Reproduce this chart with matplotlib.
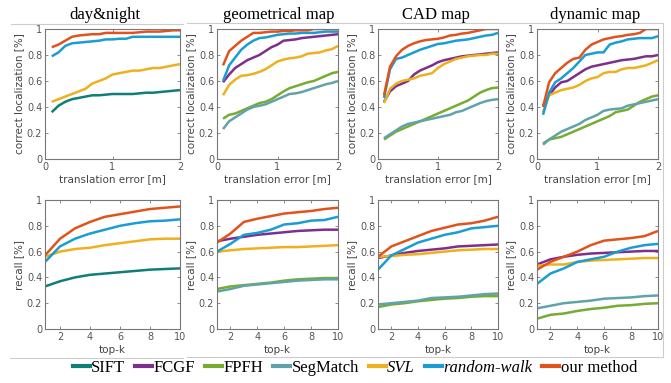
import matplotlib
matplotlib.use("Agg")
import matplotlib.pyplot as plt
from matplotlib.lines import Line2D

# x values
trans_err = [0.1, 0.2, 0.3, 0.4, 0.5, 0.6, 0.7, 0.8, 0.9, 1.0,
             1.1, 1.2, 1.3, 1.4, 1.5, 1.6, 1.7, 1.8, 1.9, 2.0]
topk = [1, 2, 3, 4, 5, 6, 7, 8, 9, 10]

methods = ['SIFT', 'FCGF', 'FPFH', 'SegMatch', 'SVL', 'random-walk', 'our method']
colors = ['#0f7d78', '#7e2f8e', '#77ac30', '#62a3aa', '#edb120', '#1a9dd4', '#e2531b']

titles = ['day&night', 'geometrical map', 'CAD map', 'dynamic map']

# correct localization vs translation error (top row)
loc_daynight = {
    'SIFT': [0.36, 0.41, 0.44, 0.46, 0.47, 0.48, 0.49, 0.49, 0.495, 0.50,
             0.50, 0.50, 0.50, 0.505, 0.51, 0.51, 0.515, 0.52, 0.525, 0.53],
    'SVL': [0.44, 0.46, 0.48, 0.50, 0.52, 0.54, 0.58, 0.60, 0.62, 0.65,
            0.66, 0.67, 0.68, 0.68, 0.69, 0.70, 0.70, 0.71, 0.72, 0.73],
    'random-walk': [0.79, 0.82, 0.87, 0.89, 0.895, 0.90, 0.905, 0.91, 0.92, 0.92,
                    0.925, 0.925, 0.94, 0.94, 0.94, 0.94, 0.94, 0.94, 0.94, 0.94],
    'our method': [0.86, 0.88, 0.91, 0.94, 0.95, 0.955, 0.96, 0.96, 0.97, 0.97,
                   0.97, 0.97, 0.97, 0.975, 0.98, 0.98, 0.98, 0.985, 0.99, 0.99],
}
loc_geom = {
    'FCGF': [0.59, 0.65, 0.70, 0.73, 0.76, 0.78, 0.80, 0.83, 0.86, 0.88,
             0.91, 0.915, 0.92, 0.93, 0.935, 0.94, 0.945, 0.95, 0.955, 0.96],
    'FPFH': [0.31, 0.34, 0.35, 0.37, 0.39, 0.41, 0.43, 0.44, 0.46, 0.49,
             0.52, 0.545, 0.56, 0.575, 0.59, 0.60, 0.62, 0.64, 0.66, 0.67],
    'SegMatch': [0.23, 0.29, 0.32, 0.35, 0.38, 0.40, 0.41, 0.42, 0.44, 0.46,
                 0.48, 0.50, 0.505, 0.515, 0.53, 0.545, 0.56, 0.575, 0.585, 0.60],
    'SVL': [0.49, 0.57, 0.61, 0.64, 0.645, 0.655, 0.67, 0.69, 0.72, 0.75,
            0.765, 0.775, 0.78, 0.79, 0.81, 0.815, 0.82, 0.835, 0.845, 0.87],
    'random-walk': [0.60, 0.72, 0.78, 0.84, 0.88, 0.91, 0.93, 0.935, 0.945, 0.955,
                    0.96, 0.965, 0.965, 0.97, 0.97, 0.97, 0.975, 0.98, 0.98, 0.98],
    'our method': [0.72, 0.83, 0.87, 0.91, 0.94, 0.97, 0.97, 0.975, 0.98, 0.98,
                   0.985, 0.985, 0.99, 0.99, 0.99, 1.0, 1.0, 1.0, 1.0, 1.0],
}
loc_cad = {
    'FCGF': [0.44, 0.52, 0.56, 0.58, 0.60, 0.65, 0.68, 0.70, 0.72, 0.745,
             0.76, 0.77, 0.78, 0.79, 0.795, 0.80, 0.805, 0.81, 0.815, 0.82],
    'FPFH': [0.15, 0.18, 0.21, 0.23, 0.25, 0.27, 0.29, 0.31, 0.33, 0.35,
             0.37, 0.39, 0.41, 0.43, 0.45, 0.48, 0.51, 0.53, 0.545, 0.55],
    'SegMatch': [0.16, 0.19, 0.22, 0.25, 0.27, 0.28, 0.29, 0.30, 0.31, 0.32,
                 0.33, 0.34, 0.36, 0.37, 0.39, 0.41, 0.43, 0.445, 0.455, 0.46],
    'SVL': [0.43, 0.54, 0.58, 0.60, 0.61, 0.62, 0.64, 0.65, 0.66, 0.70,
            0.73, 0.75, 0.77, 0.78, 0.79, 0.795, 0.80, 0.80, 0.81, 0.81],
    'random-walk': [0.47, 0.69, 0.77, 0.78, 0.80, 0.82, 0.84, 0.855, 0.87, 0.885,
                    0.89, 0.90, 0.91, 0.915, 0.92, 0.93, 0.94, 0.95, 0.955, 0.97],
    'our method': [0.49, 0.71, 0.79, 0.84, 0.87, 0.89, 0.905, 0.915, 0.92, 0.925,
                   0.935, 0.95, 0.955, 0.965, 0.97, 0.98, 0.99, 1.0, 1.0, 1.0],
}
loc_dynamic = {
    'FCGF': [0.41, 0.49, 0.55, 0.59, 0.60, 0.63, 0.66, 0.69, 0.71, 0.72,
             0.73, 0.74, 0.75, 0.76, 0.765, 0.77, 0.78, 0.79, 0.79, 0.80],
    'FPFH': [0.11, 0.15, 0.16, 0.17, 0.19, 0.21, 0.23, 0.25, 0.27, 0.29,
             0.31, 0.33, 0.36, 0.37, 0.38, 0.41, 0.44, 0.46, 0.48, 0.49],
    'SegMatch': [0.12, 0.15, 0.18, 0.21, 0.23, 0.25, 0.27, 0.30, 0.32, 0.34,
                 0.37, 0.38, 0.385, 0.39, 0.41, 0.42, 0.43, 0.44, 0.45, 0.46],
    'SVL': [0.36, 0.49, 0.51, 0.53, 0.54, 0.55, 0.57, 0.60, 0.62, 0.63,
            0.66, 0.67, 0.67, 0.69, 0.70, 0.70, 0.71, 0.72, 0.74, 0.76],
    'random-walk': [0.34, 0.51, 0.59, 0.62, 0.66, 0.70, 0.75, 0.80, 0.81, 0.82,
                    0.82, 0.88, 0.895, 0.905, 0.92, 0.925, 0.93, 0.93, 0.93, 0.945],
    'our method': [0.40, 0.59, 0.66, 0.70, 0.74, 0.77, 0.78, 0.84, 0.88, 0.90,
                   0.92, 0.93, 0.94, 0.945, 0.955, 0.96, 0.97, 1.0, 1.0, 1.0],
}

# recall vs top-k (bottom row)
rec_daynight = {
    'SIFT': [0.33, 0.37, 0.40, 0.42, 0.43, 0.44, 0.45, 0.46, 0.465, 0.47],
    'SVL': [0.56, 0.60, 0.62, 0.63, 0.65, 0.665, 0.68, 0.695, 0.70, 0.70],
    'random-walk': [0.52, 0.64, 0.70, 0.74, 0.77, 0.80, 0.82, 0.835, 0.84, 0.85],
    'our method': [0.57, 0.70, 0.78, 0.83, 0.87, 0.89, 0.91, 0.93, 0.94, 0.95],
}
rec_geom = {
    'FCGF': [0.68, 0.70, 0.715, 0.73, 0.74, 0.75, 0.76, 0.765, 0.77, 0.77],
    'FPFH': [0.31, 0.33, 0.34, 0.35, 0.36, 0.375, 0.385, 0.39, 0.395, 0.395],
    'SegMatch': [0.29, 0.31, 0.335, 0.345, 0.355, 0.365, 0.375, 0.38, 0.385, 0.385],
    'SVL': [0.60, 0.61, 0.62, 0.625, 0.63, 0.635, 0.635, 0.64, 0.645, 0.65],
    'random-walk': [0.60, 0.66, 0.73, 0.745, 0.77, 0.81, 0.82, 0.84, 0.845, 0.87],
    'our method': [0.67, 0.74, 0.83, 0.855, 0.875, 0.895, 0.905, 0.915, 0.93, 0.94],
}
rec_cad = {
    'FCGF': [0.55, 0.57, 0.59, 0.605, 0.615, 0.625, 0.64, 0.645, 0.65, 0.655],
    'FPFH': [0.17, 0.19, 0.20, 0.215, 0.225, 0.235, 0.24, 0.25, 0.255, 0.255],
    'SegMatch': [0.19, 0.20, 0.21, 0.22, 0.24, 0.245, 0.25, 0.26, 0.27, 0.275],
    'SVL': [0.56, 0.565, 0.575, 0.58, 0.59, 0.60, 0.61, 0.615, 0.62, 0.62],
    'random-walk': [0.46, 0.57, 0.62, 0.67, 0.70, 0.73, 0.75, 0.78, 0.79, 0.80],
    'our method': [0.56, 0.64, 0.68, 0.72, 0.76, 0.785, 0.81, 0.82, 0.84, 0.87],
}
rec_dynamic = {
    'FCGF': [0.50, 0.54, 0.56, 0.575, 0.585, 0.59, 0.595, 0.60, 0.605, 0.605],
    'FPFH': [0.08, 0.11, 0.12, 0.14, 0.155, 0.165, 0.18, 0.185, 0.195, 0.20],
    'SegMatch': [0.16, 0.18, 0.20, 0.21, 0.22, 0.235, 0.24, 0.245, 0.255, 0.26],
    'SVL': [0.49, 0.50, 0.50, 0.52, 0.53, 0.535, 0.54, 0.545, 0.55, 0.55],
    'random-walk': [0.35, 0.43, 0.47, 0.52, 0.54, 0.56, 0.60, 0.63, 0.65, 0.66],
    'our method': [0.46, 0.52, 0.56, 0.60, 0.65, 0.685, 0.695, 0.705, 0.72, 0.76],
}

top_data = [loc_daynight, loc_geom, loc_cad, loc_dynamic]
bottom_data = [rec_daynight, rec_geom, rec_cad, rec_dynamic]

W, H = 671, 383
fig = plt.figure(figsize=(W / 100, H / 100), dpi=100)

# axes boxes in pixels: (left, right)
cols = [(45, 180), (217, 338), (378, 498), (537, 658)]
rows = [(29, 159), (200, 329)]

tick_col = '#555555'
spine_col = '#777777'
lw = 1.8


def px_axes(x0, x1, y0, y1):
    return fig.add_axes([x0 / W, 1 - y1 / H, (x1 - x0) / W, (y1 - y0) / H])


def style(ax):
    for s in ax.spines.values():
        s.set_color(spine_col)
        s.set_linewidth(0.8)
    ax.tick_params(direction='in', length=2.5, width=0.6, colors=spine_col,
                   labelcolor=tick_col, labelsize=7, top=True, right=True, pad=2)
    ax.set_ylim(0, 1)
    ax.set_yticks([0, 0.2, 0.4, 0.6, 0.8, 1])
    ax.set_yticklabels(['0', '0.2', '0.4', '0.6', '0.8', '1'])


for i, (x0, x1) in enumerate(cols):
    # top row
    ax = px_axes(x0, x1, *rows[0])
    style(ax)
    for m, c in zip(methods, colors):
        if m in top_data[i]:
            ax.plot(trans_err, top_data[i][m], color=c, lw=lw, solid_capstyle='butt')
    ax.set_xlim(0, 2)
    ax.set_xticks([0, 1, 2])
    ax.set_xticklabels(['0', '1', '2'])
    ax.set_xlabel('translation error [m]', fontsize=7.5, color='#444444', labelpad=2)
    ax.set_ylabel('correct localization [%]', fontsize=7.5, color='#444444', labelpad=2)

    # bottom row
    ax = px_axes(x0, x1, *rows[1])
    style(ax)
    for m, c in zip(methods, colors):
        if m in bottom_data[i]:
            ax.plot(topk, bottom_data[i][m], color=c, lw=lw, solid_capstyle='butt')
    ax.set_xlim(1, 10)
    ax.set_xticks([2, 4, 6, 8, 10])
    ax.set_xlabel('top-k', fontsize=7.5, color='#444444', labelpad=2)
    ax.set_ylabel('recall [%]', fontsize=7.5, color='#444444', labelpad=2)

# titles
title_x = [105, 279, 436, 595]
for t, tx in zip(titles, title_x):
    fig.text(tx / W, 1 - 15 / H, t, ha='center', va='center',
             fontsize=12, family='Liberation Serif', color='black')

# faint subfigure frame lines
frame = '#cccccc'
for (xa, xb, ya, yb) in [(11, 183, 24, 24), (187, 663, 23, 23), (663, 663, 23, 356),
                         (10, 183, 358, 358), (187, 663, 357, 357)]:
    fig.add_artist(Line2D([xa / W, xb / W], [1 - ya / H, 1 - yb / H],
                          color=frame, lw=0.8, transform=fig.transFigure))

# legend
handles = [Line2D([], [], color=c, lw=3) for c in colors]
leg = fig.legend(handles, methods, loc='center', bbox_to_anchor=(0.529, 1 - 368 / H),
                 ncol=7, frameon=False, handlelength=1.0, handletextpad=0.1,
                 columnspacing=0.6, borderaxespad=0, borderpad=0,
                 prop={'family': 'Liberation Serif', 'size': 12})
for txt in leg.get_texts():
    if txt.get_text() in ('SVL', 'random-walk'):
        txt.set_fontstyle('italic')

fig.savefig('out.png', dpi=100)
